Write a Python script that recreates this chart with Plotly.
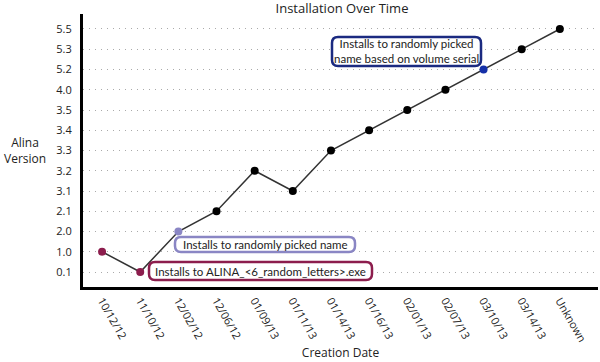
import plotly.graph_objects as go

dates = ["10/12/12", "11/10/12", "12/02/12", "12/06/12", "01/09/13", "01/11/13",
         "01/14/13", "01/16/13", "02/01/13", "02/07/13", "03/10/13", "03/14/13", "Unknown"]
versions = ["1.0", "0.1", "2.0", "2.1", "3.2", "3.1", "3.3", "3.4", "3.5", "4.0", "5.2", "5.3", "5.5"]
version_order = ["0.1", "1.0", "2.0", "2.1", "3.1", "3.2", "3.3", "3.4", "3.5", "4.0", "5.2", "5.3", "5.5"]

MAROON = "#8c1d4d"
LAVENDER = "#8a86c4"
NAVY = "#1b2a80"
BLUE = "#1530a8"
point_colors = [MAROON, MAROON, LAVENDER, "black", "black", "black", "black",
                "black", "black", "black", BLUE, "black", "black"]

note_texts = [
    "Installs to randomly picked<br>name based on volume serial",
    "Installs to randomly picked name",
    "Installs to ALINA_&lt;6_random_letters&gt;.exe",
]
note_colors = [NAVY, LAVENDER, MAROON]
# box extents in pixels (x0, y0, x1, y1)
note_boxes = [(332, 37, 481, 66), (175, 237, 355, 252), (149, 262, 372, 280)]

FONT = "Open Sans, DejaVu Sans, sans-serif"
NOTE_FONT = "Lato, Open Sans, sans-serif"
PL, PR, PT, PB = 83, 598, 14, 287


def px2paper(x, y):
    return (x - PL) / (PR - PL), (PB - y) / (PB - PT)


def rounded_path(x0, y0, x1, y1, r):
    def P(x, y):
        a, b = px2paper(x, y)
        return f"{a:.5f},{b:.5f}"
    return (f"M {P(x0 + r, y0)} L {P(x1 - r, y0)} Q {P(x1, y0)} {P(x1, y0 + r)} "
            f"L {P(x1, y1 - r)} Q {P(x1, y1)} {P(x1 - r, y1)} "
            f"L {P(x0 + r, y1)} Q {P(x0, y1)} {P(x0, y1 - r)} "
            f"L {P(x0, y0 + r)} Q {P(x0, y0)} {P(x0 + r, y0)} Z")


fig = go.Figure()
fig.add_trace(go.Scatter(
    x=dates, y=versions, mode="lines+markers",
    line=dict(color="#333333", width=1.5),
    marker=dict(size=8, color=point_colors),
    showlegend=False, hoverinfo="skip",
))

for text, col, (x0, y0, x1, y1) in zip(note_texts, note_colors, note_boxes):
    fig.add_shape(type="path", xref="paper", yref="paper",
                  path=rounded_path(x0, y0, x1, y1, 6),
                  line=dict(color=col, width=2.5), fillcolor="white", layer="above")
    cx, cy = px2paper((x0 + x1) / 2, (y0 + y1) / 2)
    fig.add_annotation(
        text=text, x=cx, y=cy, xref="paper", yref="paper",
        xanchor="center", yanchor="middle", showarrow=False,
        font=dict(family=NOTE_FONT, size=11.5, color="#222"), align="center",
    )

fig.add_annotation(text="Alina<br>Version", x=-0.113, y=(287 - 150) / 273,
                   xref="paper", yref="paper", xanchor="center", yanchor="middle",
                   showarrow=False, font=dict(family=FONT, size=12, color="#222"))

fig.update_layout(
    width=600, height=362,
    margin=dict(l=83, r=2, t=14, b=75, autoexpand=False),
    paper_bgcolor="white", plot_bgcolor="white",
    title=dict(text="Installation Over Time", x=342 / 600, xanchor="center",
               y=1 - 8 / 362, yanchor="middle",
               font=dict(family=FONT, size=13, color="#222")),
    font=dict(family=FONT, size=11, color="#222"),
)
fig.update_xaxes(
    type="category", categoryorder="array", categoryarray=dates,
    range=[-0.5, 13.0], showgrid=False, showline=True, linecolor="black", linewidth=3,
    tickangle=60, ticks="", tickfont=dict(size=11, color="#222"),
    title=dict(text="Creation Date", font=dict(size=12, color="#222"), standoff=6),
    zeroline=False, automargin=False,
)
fig.update_yaxes(
    type="category", categoryorder="array", categoryarray=version_order,
    range=[-0.74, 12.74], showgrid=True, gridcolor="#aaaaaa", griddash="1px,5px", gridwidth=1,
    showline=True, linecolor="black", linewidth=3, ticks="", ticklabelstandoff=6,
    tickfont=dict(size=11, color="#222"), zeroline=False, automargin=False,
)

fig.write_html("out.html", config={"displayModeBar": False},
               post_script="document.body.style.margin='0';")
